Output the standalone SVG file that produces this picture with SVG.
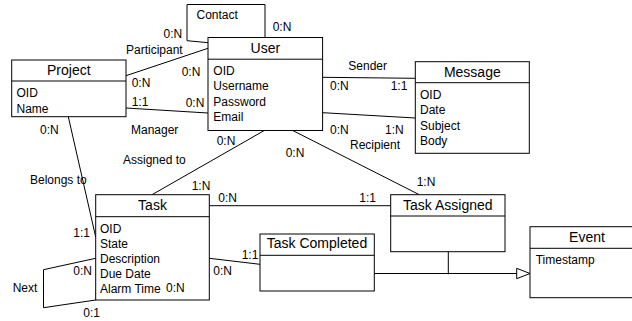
<svg xmlns="http://www.w3.org/2000/svg" width="632" height="321" viewBox="0 0 632 321">
<style>
  .box { fill: #ffffff; stroke: #000000; stroke-width: 1; }
  .sep { stroke: #000000; stroke-width: 1; }
  .title { font-family: "Liberation Sans", Arial, sans-serif; font-size: 14px; fill: #000000; text-anchor: middle; }
  .attr { font-family: "Liberation Sans", Arial, sans-serif; font-size: 12px; fill: #000000; }
  .lbl { font-family: "Liberation Sans", Arial, sans-serif; font-size: 12px; fill: #000000; }
  .conn { fill: none; stroke: #000000; stroke-width: 1; }
</style>
<rect width="632" height="321" fill="#ffffff"/>

<g id="connectors">
  <!-- Contact self-loop on User -->
  <path class="conn" d="M208 42.7 L187 40.7 L187 4.5 L265 4.5 L265 37.5"/>
  <!-- Participant -->
  <line class="conn" x1="126" y1="75.7" x2="208" y2="48.3"/>
  <!-- Manager -->
  <line class="conn" x1="126" y1="108" x2="208" y2="113"/>
  <!-- Belongs to -->
  <line class="conn" x1="68.3" y1="116.7" x2="95.7" y2="237"/>
  <!-- Assigned to -->
  <line class="conn" x1="264.3" y1="130.5" x2="152" y2="194.7"/>
  <!-- User - Task Assigned -->
  <line class="conn" x1="292.7" y1="130.5" x2="419.3" y2="194.7"/>
  <!-- Sender -->
  <line class="conn" x1="322.6" y1="77.3" x2="415.3" y2="78.3"/>
  <!-- Recipient -->
  <line class="conn" x1="322.6" y1="112.7" x2="415.3" y2="118"/>
  <!-- Task - Task Assigned -->
  <line class="conn" x1="209.3" y1="205.7" x2="390.7" y2="205.7"/>
  <!-- Task - Task Completed -->
  <line class="conn" x1="209.3" y1="258.3" x2="260" y2="264.3"/>
  <!-- Next self-loop -->
  <path class="conn" d="M95.7 258.3 L43.5 269.7 L43.5 307.7 L95.7 300"/>
  <line class="conn" x1="96.2" y1="290" x2="96.2" y2="300"/>
  <!-- Generalization -->
  <line class="conn" x1="374.3" y1="273.5" x2="516.7" y2="273.5"/>
  <line class="conn" x1="448.3" y1="251.7" x2="448.3" y2="274.3"/>
  <polygon points="516.7,268.3 530,273.5 516.7,278.7" fill="#ffffff" stroke="#000000" stroke-width="1"/>
</g>

<g id="node-contact">
  <text class="lbl" x="196.5" y="19">Contact</text>
</g>

<g id="node-user">
  <rect class="box" x="208" y="37.5" width="114.6" height="93"/>
  <line class="sep" x1="208" y1="59.2" x2="322.6" y2="59.2"/>
  <text class="title" x="265.3" y="53.3">User</text>
  <text class="attr" x="213.3" y="75">OID</text>
  <text class="attr" x="213.3" y="90.3">Username</text>
  <text class="attr" x="213.3" y="105.6">Password</text>
  <text class="attr" x="213.3" y="121">Email</text>
</g>

<g id="node-project">
  <rect class="box" x="11.7" y="60" width="114.3" height="56.7"/>
  <line class="sep" x1="11.7" y1="81" x2="126" y2="81"/>
  <text class="title" x="68.8" y="75">Project</text>
  <text class="attr" x="16.5" y="96.6">OID</text>
  <text class="attr" x="16.5" y="112.6">Name</text>
</g>

<g id="node-message">
  <rect class="box" x="415.3" y="61.7" width="114" height="91.6"/>
  <line class="sep" x1="415.3" y1="82.7" x2="529.3" y2="82.7"/>
  <text class="title" x="472.3" y="76.7">Message</text>
  <text class="attr" x="420" y="99.3">OID</text>
  <text class="attr" x="420" y="114.3">Date</text>
  <text class="attr" x="420" y="130">Subject</text>
  <text class="attr" x="420" y="145">Body</text>
</g>

<g id="node-task">
  <rect class="box" x="95.7" y="194.7" width="113.6" height="105.3"/>
  <line class="sep" x1="95.7" y1="216.7" x2="209.3" y2="216.7"/>
  <text class="title" x="152.5" y="210">Task</text>
  <text class="attr" x="100" y="233.3">OID</text>
  <text class="attr" x="100" y="248.3">State</text>
  <text class="attr" x="100" y="263.3">Description</text>
  <text class="attr" x="100" y="278.3">Due Date</text>
  <text class="attr" x="100" y="293.3">Alarm Time</text>
</g>

<g id="node-task-assigned">
  <rect class="box" x="390.7" y="194.7" width="114.3" height="57"/>
  <line class="sep" x1="390.7" y1="216" x2="505" y2="216"/>
  <text class="title" x="447.8" y="210">Task Assigned</text>
</g>

<g id="node-task-completed">
  <rect class="box" x="260" y="234" width="114.3" height="57"/>
  <line class="sep" x1="260" y1="255.3" x2="374.3" y2="255.3"/>
  <text class="title" x="317" y="248.3">Task Completed</text>
</g>

<g id="node-event">
  <rect class="box" x="530" y="226.7" width="114" height="71"/>
  <line class="sep" x1="530" y1="248.3" x2="644" y2="248.3"/>
  <text class="title" x="587" y="242">Event</text>
  <text class="attr" x="535.7" y="263.6">Timestamp</text>
</g>

<g id="labels">
  <text class="lbl" x="163.5" y="37.5">0:N</text>
  <text class="lbl" x="272.7" y="30.7">0:N</text>
  <text class="lbl" x="126" y="53.6">Participant</text>
  <text class="lbl" x="131.7" y="87.3">0:N</text>
  <text class="lbl" x="181.7" y="76">0:N</text>
  <text class="lbl" x="131.7" y="106">1:1</text>
  <text class="lbl" x="185.7" y="106.5">0:N</text>
  <text class="lbl" x="131" y="133.6">Manager</text>
  <text class="lbl" x="40" y="134">0:N</text>
  <text class="lbl" x="216.7" y="145">0:N</text>
  <text class="lbl" x="285.7" y="157">0:N</text>
  <text class="lbl" x="123" y="163.5">Assigned to</text>
  <text class="lbl" x="30" y="183.6">Belongs to</text>
  <text class="lbl" x="191.7" y="190">1:N</text>
  <text class="lbl" x="218.3" y="201.7">0:N</text>
  <text class="lbl" x="359.3" y="201.7">1:1</text>
  <text class="lbl" x="416.7" y="186">1:N</text>
  <text class="lbl" x="73.3" y="236.7">1:1</text>
  <text class="lbl" x="241.7" y="259">1:1</text>
  <text class="lbl" x="213.3" y="275">0:N</text>
  <text class="lbl" x="73.3" y="275">0:N</text>
  <text class="lbl" x="12.7" y="292.3">Next</text>
  <text class="lbl" x="166" y="292.3">0:N</text>
  <text class="lbl" x="83.3" y="317.3">0:1</text>
  <text class="lbl" x="348.3" y="69.6">Sender</text>
  <text class="lbl" x="330" y="90">0:N</text>
  <text class="lbl" x="390.7" y="90">1:1</text>
  <text class="lbl" x="330" y="134">0:N</text>
  <text class="lbl" x="385" y="134">1:N</text>
  <text class="lbl" x="350" y="149.3">Recipient</text>
</g>
</svg>
